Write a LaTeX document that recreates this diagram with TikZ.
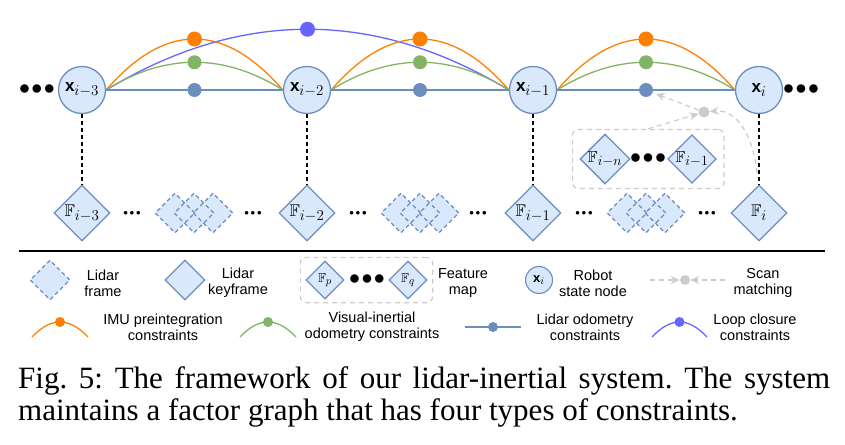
\documentclass[tikz,border=0pt]{standalone}
\usepackage{fix-cm}
\usepackage{amsmath,amssymb}
\usepackage[no-math]{fontspec}
\setmainfont{Liberation Sans}
\newfontfamily\capfont{Liberation Serif}
\usepackage{xcolor}
\usetikzlibrary{
    shapes.geometric,
    arrows.meta,
    positioning,
    fit
}
\definecolor{nodefill}{HTML}{DAE8FC}
\definecolor{nodeline}{HTML}{6C8EBF}
\definecolor{imucol}{HTML}{FF8000}
\definecolor{viocol}{HTML}{82B366}
\definecolor{locol}{HTML}{6C8EBF}
\definecolor{loopcol}{HTML}{6666FF}
\definecolor{scancol}{HTML}{CCCCCC}
\DeclareMathSizes{17}{17}{15}{11}
\DeclareMathSizes{16}{16}{14}{10}
\DeclareMathSizes{13}{13}{11}{8}
\newcommand{\bx}{\mbox{\bfseries x}}
\newcommand{\fatdots}{$\mathord{\bullet}\kern1.5pt\mathord{\bullet}\kern1.5pt\mathord{\bullet}$}
\newcommand{\thindots}{$\mathord{\bullet}\kern1.8pt\mathord{\bullet}\kern1.8pt\mathord{\bullet}$}

\begin{document}
\begin{tikzpicture}[
    x=1pt, y=-1pt,
    state/.style={
        circle,
        draw=nodeline,
        fill=nodefill,
        line width=1.3pt,
        minimum size=47pt,
        inner sep=0pt,
        font=\fontsize{17}{20}\selectfont
    },
    keyframe/.style={
        diamond, aspect=1,
        draw=nodeline,
        fill=nodefill,
        line width=1.3pt,
        minimum size=56pt,
        inner sep=0pt,
        font=\fontsize{17}{20}\selectfont
    },
    lidarframe/.style={diamond, aspect=1, draw=nodeline, line width=1.3pt,
        dash pattern=on 4pt off 3pt, minimum size=40pt, inner sep=0pt},
    framefill/.style={lidarframe, draw=none, fill=nodefill},
    factor/.style={circle, fill=#1, minimum size=14pt, inner sep=0pt},
    imu/.style={imucol, line width=1.3pt},
    vio/.style={viocol, line width=1.3pt},
    lidar/.style={locol, line width=1.3pt},
    loopc/.style={loopcol, line width=1.3pt},
    link/.style={black, line width=1.5pt, dash pattern=on 4pt off 3pt},
    fmapbox/.style={draw=scancol, line width=1.2pt, dash pattern=on 5pt off 4pt,
        rounded corners=6pt, inner xsep=7pt, inner ysep=4pt},
    scan/.style={scancol, line width=1.2pt, dash pattern=on 5pt off 4pt,
        -{Stealth[length=9pt,width=8pt]}},
    legtext/.style={font=\fontsize{14.5}{16}\selectfont, align=center},
    bigdots/.style={font=\fontsize{22}{22}\selectfont, inner sep=0pt},
    smalldots/.style={font=\fontsize{9}{9}\selectfont, inner sep=0pt}
]
\useasboundingbox (0,0) rectangle (845,444);

% ===== Factor graph =====
% Robot states
\node[state] (x3) at (82,90) {$\bx_{i-3}$};
\node[state] (x2) at (307,90) {$\bx_{i-2}$};
\node[state] (x1) at (533,90) {$\bx_{i-1}$};
\node[state] (x0) at (759,90) {$\bx_{i}$};
\node[bigdots] (dl) at (37,90) {\fatdots};
\node[bigdots] (dr) at (801,90) {\fatdots};

% Keyframes
\node[keyframe] (F3) at (82,213) {$\mathbb{F}_{i-3}$};
\node[keyframe] (F2) at (307,213) {$\mathbb{F}_{i-2}$};
\node[keyframe] (F1) at (533,213) {$\mathbb{F}_{i-1}$};
\node[keyframe] (F0) at (759,213) {$\mathbb{F}_{i}$};
\foreach \a/\b in {x3/F3, x2/F2, x1/F1, x0/F0}
    \draw[link] (\a) -- (\b);

% Lidar frames
\foreach \c [count=\g] in {194,420,646} {
    \foreach \d [count=\k] in {-19,0,19}
        \node[framefill] (ff\g\k) at (\c+\d,213) {};
    \foreach \d [count=\k] in {-19,0,19}
        \node[lidarframe] (fr\g\k) at (\c+\d,213) {};
}
\foreach \p [count=\k] in {132,253,358,478,584,707}
    \node[smalldots] (sd\k) at (\p,213) {\thindots};

% Loop closure
\draw[loopc] (x3.east) .. controls +(134,-81) and +(-134,-81) .. (x1.west)
    node[factor=loopcol, minimum size=15pt, pos=.5] (lc) {};

% IMU, visual-inertial and lidar constraints
\foreach \a/\b/\k in {x3/x2/1, x2/x1/2, x1/x0/3} {
    \draw[imu] (\a.east) .. controls +(59,-68) and +(-59,-68) .. (\b.west)
        node[factor=imucol, minimum size=15pt, pos=.5] (imu\k) {};
    \draw[vio] (\a.east) .. controls +(59,-37) and +(-59,-37) .. (\b.west)
        node[factor=viocol, pos=.5] (vio\k) {};
    \draw[lidar] (\a.east) -- (\b.west)
        node[factor=locol, pos=.5] (lo\k) {};
}

% Feature map and scan matching
\node[keyframe, minimum size=48pt, font=\fontsize{16}{18}\selectfont] (Fn) at (605,159) {$\mathbb{F}_{i-n}$};
\node[keyframe, minimum size=48pt, font=\fontsize{16}{18}\selectfont] (Fm) at (692,159) {$\mathbb{F}_{i-1}$};
\node[bigdots] (dm) at (648,159) {\fatdots};
\node[fmapbox, fit=(Fn)(Fm)] (fm) {};
\node[factor=scancol, minimum size=11pt] (sm) at (704,112) {};
\coordinate (smin) at (757,173);
\draw[scan] (fm.north) -- (sm);
\draw[scan] (smin) to[out=95,in=5] (sm);
\draw[scan, shorten >=3pt] (sm) -- (lo3);

% Separator
\draw[line width=1.5pt] (19,251) -- (825,251);

% ===== Legend =====
\node[lidarframe, fill=nodefill] (lgf) at (50,280) {};
\node[legtext] (lgft) at (103,283) {Lidar\\frame};
\node[keyframe, minimum size=40pt] (lgk) at (185,280) {};
\node[legtext] (lgkt) at (238,283) {Lidar\\keyframe};
\node[keyframe, minimum size=38pt, font=\fontsize{13}{15}\selectfont] (lgp) at (325,280) {$\mathbb{F}_p$};
\node[bigdots] (lgd) at (367,280) {\fatdots};
\node[keyframe, minimum size=38pt, font=\fontsize{13}{15}\selectfont] (lgq) at (408,280) {$\mathbb{F}_q$};
\node[fmapbox, inner xsep=5pt, inner ysep=3pt, fit=(lgp)(lgq)] (lgm) {};
\node[legtext] (lgmt) at (463,283) {Feature\\map};
\node[state, minimum size=27pt, line width=1.1pt, font=\fontsize{13}{15}\selectfont] (lgx) at (539,280) {$\bx_i$};
\node[legtext] (lgxt) at (593,283) {Robot\\state node};
\node[factor=scancol, minimum size=10pt] (lgs) at (685,280) {};
\coordinate (lgsl) at (650,280);
\coordinate (lgsr) at (725,280);
\draw[scan] (lgsl) -- (lgs);
\draw[scan] (lgsr) -- (lgs);
\node[legtext] (lgst) at (763,283) {Scan\\matching};

% Constraint types
\coordinate (li1) at (32,337);
\coordinate (li2) at (88,337);
\draw[imu] (li1) .. controls +(19,-20) and +(-19,-20) .. (li2)
    node[factor=imucol, minimum size=10pt, pos=.5] (lgi) {};
\node[legtext] (lgit) at (163,327) {IMU preintegration\\constraints};
\coordinate (lv1) at (240,337);
\coordinate (lv2) at (296,337);
\draw[vio] (lv1) .. controls +(19,-20) and +(-19,-20) .. (lv2)
    node[factor=viocol, minimum size=10pt, pos=.5] (lgv) {};
\node[legtext] (lgvt) at (372,327) {Visual-inertial\\odometry constraints};
\coordinate (ll1) at (465,327);
\coordinate (ll2) at (521,327);
\draw[lidar] (ll1) -- (ll2)
    node[factor=locol, minimum size=10pt, pos=.5] (lgl) {};
\node[legtext] (lglt) at (585,327) {Lidar odometry\\constraints};
\coordinate (lc1) at (652,337);
\coordinate (lc2) at (707,337);
\draw[loopc] (lc1) .. controls +(19,-20) and +(-19,-20) .. (lc2)
    node[factor=loopcol, minimum size=10pt, pos=.5] (lgc) {};
\node[legtext] (lgct) at (755,327) {Loop closure\\constraints};

% Caption
\node[anchor=north west, inner sep=0pt, text width=812pt, align=justify,
      font=\capfont\fontsize{31}{32}\selectfont\frenchspacing] (cap) at (18,366)
    {Fig. 5: The framework of our lidar-inertial system. The system\linebreak
     maintains a factor graph that has four types of constraints.};

\end{tikzpicture}
\end{document}
